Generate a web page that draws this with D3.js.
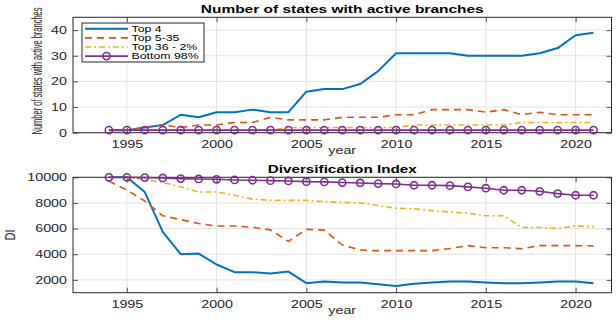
<!DOCTYPE html>
<html>
<head>
<meta charset="utf-8">
<script src="https://cdn.jsdelivr.net/npm/d3@7"></script>
<style>
  html, body { margin: 0; padding: 0; background: #fff; }
  svg { display: block; font-family: "Liberation Sans", Arial, Helvetica, sans-serif; }
</style>
</head>
<body>
<svg id="chart" width="616" height="321"></svg>
<script>
// ---- data ----
const years = [1994,1995,1996,1997,1998,1999,2000,2001,2002,2003,2004,2005,2006,2007,
               2008,2009,2010,2011,2012,2013,2014,2015,2016,2017,2018,2019,2020,2021];

const seriesNames = ["Top 4", "Top 5-35", "Top 36 - 2%", "Bottom 98%"];

// number of states with active branches
const statesTop4    = [1,1,2,3,7,6,8,8,9,8,8,16,17,17,19,24,31,31,31,31,30,30,30,30,31,33,38,39];
const statesTop5_35 = [1,1,2,3,2,3,3,4,4,6,5,5,5,6,6,6,7,7,9,9,9,8,9,7,8,7,7,7];
const statesTop36   = [1,1,1,1,1,1,1,1,1,1,2,2,2,2,2,2,2,3,3,3,3,3,3,4,4,4,4,4];
const statesBottom  = [1,1,1,1,1,1,1,1,1,1,1,1,1,1,1,1,1,1,1,1,1,1,1,1,1,1,1,1];

// diversification index
const diTop4    = [10000,10000,8850,5750,4000,4050,3200,2600,2600,2500,2650,1740,1870,1790,
                   1790,1660,1530,1690,1790,1870,1870,1790,1740,1740,1790,1870,1870,1740];
const diTop5_35 = [9700,9000,8150,7000,6700,6400,6200,6200,6100,5900,5000,5940,5880,4720,
                   4330,4280,4280,4280,4280,4450,4670,4510,4510,4430,4670,4670,4670,4650];
const diTop36   = [10000,9950,9820,9600,9250,8850,8850,8600,8300,8200,8200,8200,8100,8050,
                   8000,7800,7580,7550,7400,7290,7200,7000,7000,6080,6080,6010,6220,6150];
const diBottom  = [10000,10000,9975,9950,9900,9870,9845,9795,9770,9740,9715,9660,9640,9590,
                   9560,9510,9480,9380,9380,9350,9250,9150,8990,8990,8910,8730,8600,8600];

const xTicks = [1995, 2000, 2005, 2010, 2015, 2020];
const statesTicks = [0, 10, 20, 30, 40];
const diTicks = [2000, 4000, 6000, 8000, 10000];

// ---- styling ----
const colors = ["#0072BD", "#D95319", "#EDB120", "#7E2F8E"];
const widths = [2, 1.6, 1.6, 1.6];
const dashes = [null, "7,5", "6,3,2,3", null];
const STRETCH = 1.36;   // horizontal widening of text glyphs
const LEGEND_STRETCH = 1.45;

const svg = d3.select("#chart");

const x = d3.scaleLinear().domain([1992, 2022]).range([73, 611.5]);

function stretchText(sel, k) {
  sel.each(function () {
    const w = this.getComputedTextLength();
    d3.select(this).attr("textLength", w * k).attr("lengthAdjust", "spacingAndGlyphs");
  });
}

function panel(cfg) {
  const y = d3.scaleLinear().domain(cfg.yDomain).range([cfg.bottom, cfg.top]);
  const g = svg.append("g");
  const x0 = x.range()[0], x1 = x.range()[1];

  // grid
  g.append("g").selectAll("line").data(xTicks).join("line")
    .attr("x1", d => x(d)).attr("x2", d => x(d))
    .attr("y1", cfg.top).attr("y2", cfg.bottom)
    .attr("stroke", "#e3e3e3").attr("stroke-width", 1);
  g.append("g").selectAll("line").data(cfg.yTicks).join("line")
    .attr("x1", x0).attr("x2", x1)
    .attr("y1", d => y(d)).attr("y2", d => y(d))
    .attr("stroke", "#e3e3e3").attr("stroke-width", 1);

  // axes (ticks point inward, mirrored on the opposite sides)
  const plain = d => String(d);
  const axB = g.append("g").attr("transform", `translate(0,${cfg.bottom})`)
    .call(d3.axisBottom(x).tickValues(xTicks).tickFormat(plain)
      .tickSize(-5).tickPadding(8).tickSizeOuter(0));
  const axT = g.append("g").attr("transform", `translate(0,${cfg.top})`)
    .call(d3.axisTop(x).tickValues(xTicks).tickSize(-5).tickFormat("").tickSizeOuter(0));
  const axL = g.append("g").attr("transform", `translate(${x0},0)`)
    .call(d3.axisLeft(y).tickValues(cfg.yTicks).tickFormat(plain)
      .tickSize(-5).tickPadding(6).tickSizeOuter(0));
  const axR = g.append("g").attr("transform", `translate(${x1},0)`)
    .call(d3.axisRight(y).tickValues(cfg.yTicks).tickSize(-5).tickFormat("").tickSizeOuter(0));
  [axB, axT, axL, axR].forEach(a => {
    a.select(".domain").remove();
    a.selectAll("line").attr("stroke", "#262626").attr("stroke-width", 0.8);
    a.selectAll("text").attr("fill", "#262626").attr("font-size", 10.5)
      .attr("font-family", "Liberation Sans, Arial, sans-serif");
  });
  axB.selectAll("text").attr("dy", "0.71em");
  stretchText(axB.selectAll("text"), STRETCH);
  stretchText(axL.selectAll("text"), STRETCH);

  // box
  g.append("rect").attr("x", x0).attr("y", cfg.top)
    .attr("width", x1 - x0).attr("height", cfg.bottom - cfg.top)
    .attr("fill", "none").attr("stroke", "#262626").attr("stroke-width", 1);

  // lines
  const line = d3.line().x((d, i) => x(years[i])).y(d => y(d));
  cfg.series.forEach((s, k) => {
    g.append("path").datum(s)
      .attr("d", line)
      .attr("fill", "none")
      .attr("stroke", colors[k])
      .attr("stroke-width", widths[k])
      .attr("stroke-dasharray", dashes[k])
      .attr("stroke-linejoin", "round");
  });
  // circle markers on the last series
  g.append("g").selectAll("circle").data(cfg.series[3]).join("circle")
    .attr("cx", (d, i) => x(years[i])).attr("cy", d => y(d))
    .attr("r", 3.6).attr("fill", "none")
    .attr("stroke", colors[3]).attr("stroke-width", 1.6);

  // title
  g.append("text").attr("x", (x0 + x1) / 2).attr("y", cfg.top - 4)
    .attr("text-anchor", "middle").attr("font-weight", "bold").attr("font-size", 10)
    .attr("fill", "#000").attr("textLength", cfg.titleLen).attr("lengthAdjust", "spacingAndGlyphs")
    .text(cfg.title);

  // x label
  const xl = g.append("text").attr("x", (x0 + x1) / 2).attr("y", cfg.bottom + 21.5)
    .attr("text-anchor", "middle").attr("font-size", 10.5).attr("fill", "#262626")
    .text("year");
  stretchText(xl, STRETCH);

  // y label: rotated, scaled to the wanted length and glyph height
  const yl = g.append("text")
    .attr("text-anchor", "middle").attr("font-size", 10).attr("fill", "#262626")
    .text(cfg.ylab);
  const natural = yl.node().getComputedTextLength();
  const sx = cfg.ylabLen / natural;
  yl.attr("transform",
    `translate(${cfg.ylabX},${cfg.ylabY}) rotate(-90) scale(${sx},${cfg.ylabH})`);

  return { g, y };
}

const statesPanel = panel({
  top: 17.3, bottom: 132.7, yDomain: [0, 45], yTicks: statesTicks,
  series: [statesTop4, statesTop5_35, statesTop36, statesBottom],
  title: "Number of states with active branches", titleLen: 283,
  ylab: "Number of states with active branches", ylabX: 42, ylabY: 71, ylabLen: 127, ylabH: 1.4
});

const diPanel = panel({
  top: 177.3, bottom: 292.7, yDomain: [1000, 10000], yTicks: diTicks,
  series: [diTop4, diTop5_35, diTop36, diBottom],
  title: "Diversification Index", titleLen: 149,
  ylab: "DI", ylabX: 14.5, ylabY: 235, ylabLen: 11, ylabH: 1.4
});

// legend in the upper panel
const lg = svg.append("g").attr("transform", "translate(82,23)");
lg.append("rect").attr("width", 122).attr("height", 39)
  .attr("fill", "#fff").attr("stroke", "#262626").attr("stroke-width", 1);
seriesNames.forEach((name, k) => {
  const yy = 5.8 + k * 9.1;
  lg.append("line").attr("x1", 3).attr("x2", 46).attr("y1", yy).attr("y2", yy)
    .attr("stroke", colors[k]).attr("stroke-width", widths[k])
    .attr("stroke-dasharray", dashes[k]);
  if (k === 3) {
    lg.append("circle").attr("cx", 24.5).attr("cy", yy).attr("r", 3.6)
      .attr("fill", "none").attr("stroke", colors[k]).attr("stroke-width", 1.6);
  }
  const t = lg.append("text").attr("x", 49.5).attr("y", yy + 3.2)
    .attr("font-size", 8.5).attr("fill", "#000").text(name);
  stretchText(t, LEGEND_STRETCH);
});
</script>
</body>
</html>
